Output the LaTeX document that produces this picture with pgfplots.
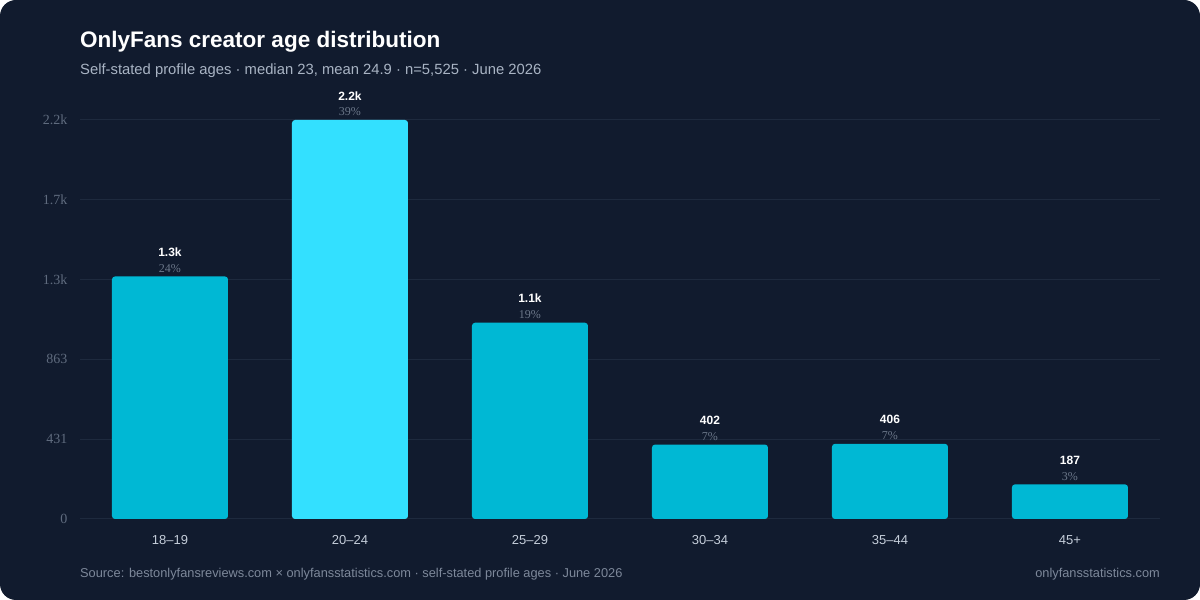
\documentclass[border=0pt]{standalone}
\usepackage{pgfplots}
\pgfplotsset{compat=1.18}
\usepackage{pgfplotstable}
\usepackage{fontspec}
\setmainfont{Liberation Sans}
\newfontfamily\serifnum{Liberation Serif}
\definecolor{bg}{HTML}{111B2E}
\definecolor{gridc}{HTML}{1E2A3E}
\definecolor{barc}{HTML}{00B8D4}
\definecolor{barh}{HTML}{33E0FF}
\definecolor{ticky}{HTML}{5F6B7E}
\definecolor{tickx}{HTML}{C5CEDA}
\definecolor{subc}{HTML}{A9B4C4}
\definecolor{footc}{HTML}{7D889A}
\definecolor{pctc}{HTML}{6B7789}
\protected\def\lbl#1#2{\textbf{#1}\\{\serifnum\color{pctc}#2\%}}
\pgfplotstableread{
x y lab
0 1310 \lbl{1.3k}{24}
2 1060 \lbl{1.1k}{19}
3 402 \lbl{402}{7}
4 406 \lbl{406}{7}
5 187 \lbl{187}{3}
}\regular
\pgfplotstableread{
x y lab
1 2155 \lbl{2.2k}{39}
}\highlight
\begin{document}
\begin{tikzpicture}[x=1pt,y=1pt]
\useasboundingbox (0,0) rectangle (1200,600);
\fill[bg, rounded corners=16pt] (0,0) rectangle (1200,600);
\node[anchor=base west, font=\fontsize{22.5}{26}\selectfont\bfseries, text=white, inner sep=0pt] at (80,552) {OnlyFans creator age distribution};
\node[anchor=base west, font=\fontsize{14.8}{17}\selectfont, text=subc, inner sep=0pt] at (80,525) {Self-stated profile ages · median 23, mean 24.9 · n=5,525 · June 2026};
\node[anchor=base west, font=\fontsize{12.8}{15}\selectfont, text=footc, inner sep=0pt] at (80,22.5) {Source: bestonlyfansreviews.com × onlyfansstatistics.com · self-stated profile ages · June 2026};
\node[anchor=base east, font=\fontsize{12.8}{15}\selectfont, text=footc, inner sep=0pt] at (1160,22.5) {onlyfansstatistics.com};
\begin{axis}[
  at={(80pt,81pt)}, anchor=south west,
  scale only axis, width=1080pt, height=399pt,
  xmin=-0.5, xmax=5.5, ymin=0, ymax=2155,
  axis line style={draw=none},
  clip=false,
  xtick={0,1,2,3,4,5},
  xticklabels={18–19,20–24,25–29,30–34,35–44,45+},
  ytick={0,431,862,1293,1724,2155},
  yticklabels={0,431,863,1.3k,1.7k,2.2k},
  tick style={draw=none},
  xticklabel style={font=\fontsize{13}{15}\selectfont, text=tickx, yshift=-13pt},
  yticklabel style={font=\serifnum\fontsize{14}{16}\selectfont, text=ticky, xshift=-9pt},
  ymajorgrids, grid style={gridc, line width=1pt},
  point meta=explicit symbolic,
  nodes near coords={\pgfplotspointmeta},
  every node near coord/.append style={align=center, text=white, font=\fontsize{12}{15.5}\selectfont, inner sep=0pt, anchor=south, yshift=4pt},
]
\addplot[ybar, bar width=116pt, bar shift=0pt, fill=barc, draw=none, rounded corners=3pt] table[x=x, y=y, meta=lab] {\regular};
\addplot[ybar, bar width=116pt, bar shift=0pt, fill=barh, draw=none, rounded corners=3pt] table[x=x, y=y, meta=lab] {\highlight};
\end{axis}
\end{tikzpicture}
\end{document}
